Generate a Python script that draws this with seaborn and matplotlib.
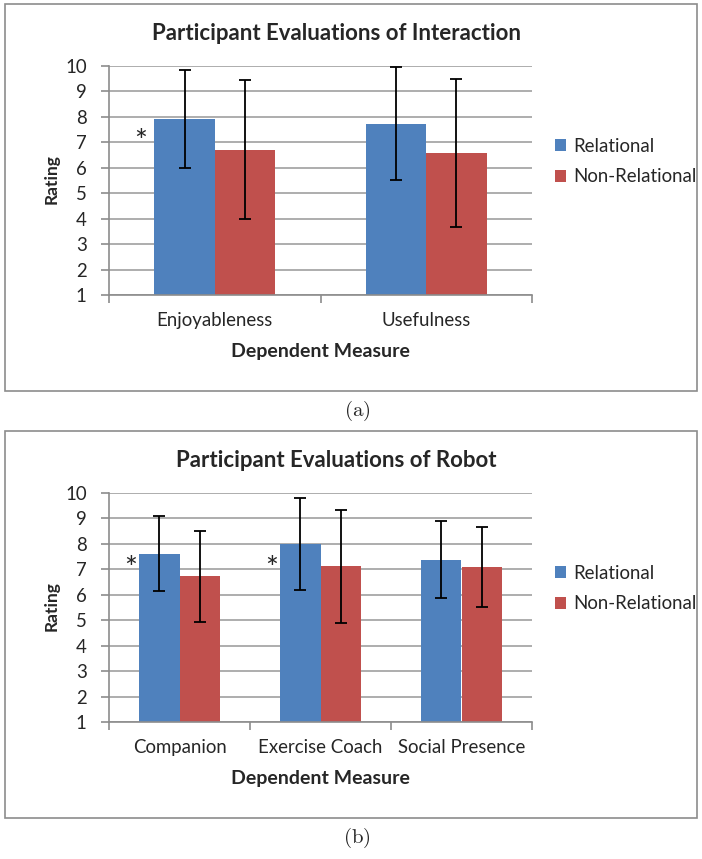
import numpy as np
import pandas as pd
import seaborn as sns
import matplotlib
matplotlib.use("Agg")
import matplotlib.pyplot as plt
from matplotlib.patches import Rectangle

# data
groups = ["Relational", "Non-Relational"]
colors = ["#4F81BD", "#C0504D"]

measures_a = ["Enjoyableness", "Usefulness"]
rel_a = [7.93, 7.74]
rel_err_a = [1.93, 2.21]
non_a = [6.71, 6.59]
non_err_a = [2.73, 2.90]
star_a = [True, False]

measures_b = ["Companion", "Exercise Coach", "Social Presence"]
rel_b = [7.62, 7.99, 7.38]
rel_err_b = [1.48, 1.80, 1.50]
non_b = [6.72, 7.13, 7.09]
non_err_b = [1.79, 2.22, 1.58]
star_b = [True, True, False]

star_level = 7.03  # height of the "*" marks

sns.set_style("white")
plt.rcParams["font.family"] = ["Lato", "DejaVu Sans"]
plt.rcParams["mathtext.fontset"] = "cm"

W, H = 702, 859
fig = plt.figure(figsize=(W / 100, H / 100), dpi=100)


def px(x0, y0, x1, y1):
    # pixel box -> figure fraction rect
    return [x0 / W, 1 - y1 / H, (x1 - x0) / W, (y1 - y0) / H]


def panel(top, measures, rel, rel_err, non, non_err, stars, title, caption):
    # frame around the panel
    fig.patches.append(Rectangle((4.5 / W, 1 - (top + 387) / H), 692.5 / W, 387 / H,
                                 transform=fig.transFigure, fill=False,
                                 edgecolor="#8c8c8c", linewidth=1.2))
    ax = fig.add_axes(px(109, top + 62.5, 532, top + 291.5))
    df = pd.DataFrame({
        "measure": measures * 2,
        "group": [groups[0]] * len(measures) + [groups[1]] * len(measures),
        "rating": rel + non,
        "err": rel_err + non_err,
    })
    sns.barplot(data=df, x="measure", y="rating", hue="group", palette=colors,
                saturation=1, width=0.57, errorbar=None, ax=ax, zorder=2,
                legend=True, edgecolor="none")
    # error bars on bar centres
    bars = [p for p in ax.patches if p.get_height() > 0][:len(df)]
    for p, e in zip(bars, df["err"]):
        xc = p.get_x() + p.get_width() / 2
        ax.errorbar(xc, p.get_height(), yerr=e, fmt="none", ecolor="black",
                    elinewidth=1.3, capsize=4, capthick=1.3, zorder=3)
    # significance marks
    for i, s in enumerate(stars):
        if s:
            p = bars[i]
            ax.text(p.get_x() - 0.065, star_level, "*", ha="center",
                    va="center", fontsize=22)
    n = len(measures)
    ax.set_xlim(-0.5, n - 0.5)
    ax.set_ylim(1, 10)
    ax.set_yticks(range(1, 11))
    ax.set_xticks(np.arange(-0.5, n, 1.0), minor=True)
    ax.tick_params(axis="x", which="major", length=0, labelsize=13.4, pad=12)
    ax.tick_params(axis="x", which="minor", length=6, color="#8c8c8c", width=1.2,
                   direction="out", bottom=True)
    ax.tick_params(axis="y", length=6, color="#8c8c8c", width=1.2, direction="out",
                   labelsize=13.4, left=True, pad=10)
    ax.yaxis.grid(True, color="#a0a0a0", linewidth=1.2, zorder=0)
    ax.set_axisbelow(True)
    for side in ["top", "right"]:
        ax.spines[side].set_visible(False)
    for side in ["left", "bottom"]:
        ax.spines[side].set_color("#8c8c8c")
        ax.spines[side].set_linewidth(1.2)
    ax.set_xlabel("")
    ax.set_ylabel("")
    ax.legend(loc="center left", bbox_to_anchor=(555 / W, 1 - (top + 158) / H),
              bbox_transform=fig.transFigure, frameon=False, fontsize=13.4,
              handlelength=0.6, handleheight=0.6, handletextpad=0.4,
              labelspacing=0.75, borderaxespad=0, borderpad=0)
    fig.text(336 / W, 1 - (top + 30) / H, title, ha="center", va="center",
             fontsize=16, fontweight="bold")
    fig.text(52 / W, 1 - (top + 176) / H, "Rating", ha="center", va="center",
             rotation=90, fontsize=12.5, fontweight="bold")
    fig.text(320 / W, 1 - (top + 348) / H, "Dependent Measure", ha="center",
             va="center", fontsize=14, fontweight="bold")
    fig.text(357 / W, 1 - (top + 407) / H, caption, ha="center", va="center",
             fontsize=15)
    return ax


panel(3.5, measures_a, rel_a, rel_err_a, non_a, non_err_a, star_a,
      "Participant Evaluations of Interaction", r"$\mathrm{(a)}$")
panel(430.5, measures_b, rel_b, rel_err_b, non_b, non_err_b, star_b,
      "Participant Evaluations of Robot", r"$\mathrm{(b)}$")

plt.savefig("out.png", dpi=100)
